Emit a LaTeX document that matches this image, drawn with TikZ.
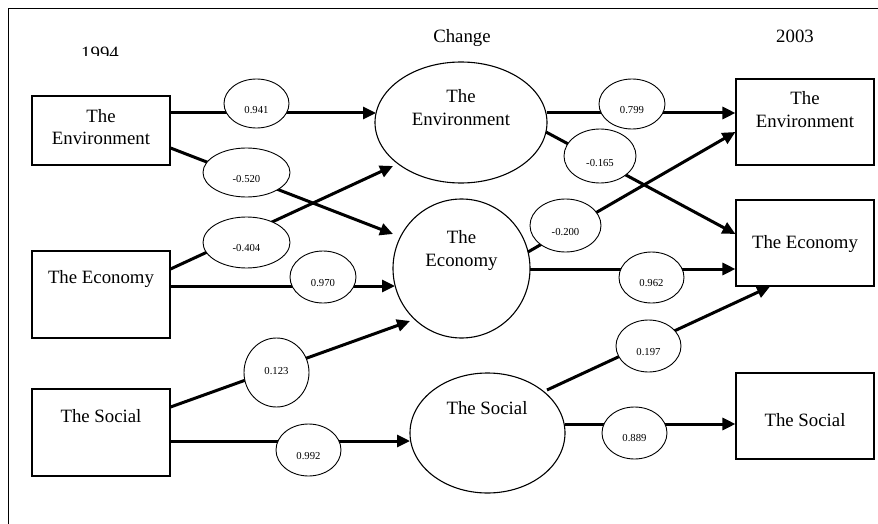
\documentclass[tikz,border=0pt]{standalone}
\usepackage{fontspec}
\setmainfont{Liberation Serif}
\usetikzlibrary{arrows.meta,shapes.geometric,calc}

\tikzset{
  bigfont/.style={font=\fontsize{18.8}{22.5}\selectfont},
  numfont/.style={font=\fontsize{10.7}{12}\selectfont},
  varbox/.style={draw, line width=1.1pt, rectangle, inner sep=0pt, minimum width=138pt},
  latent/.style={draw, line width=1.1pt, ellipse, inner sep=0pt},
  coef/.style={draw, line width=0.9pt, ellipse, fill=white, inner sep=0pt,
               numfont, text height=19.2pt, text depth=0pt,
               minimum width=65pt, minimum height=51pt},
  caption/.style={bigfont, inner sep=0pt, align=center},
  path/.style={line width=3pt, -{Triangle[length=13pt,width=12pt]}},
}

\begin{document}
\begin{tikzpicture}[x=1pt,y=-1pt]
\useasboundingbox (0,0) rectangle (878,524);

% frame
\draw[line width=1pt] (8,524) -- (8,9) -- (878,9);

% column headings
\begin{scope}
  \clip (60,30) rectangle (140,55.5);
  \node[caption, anchor=base] (hYear1) at (100,59.5) {1994};
\end{scope}
\node[caption, anchor=base] (hChange) at (462,42.5) {Change};
\node[caption, anchor=base] (hYear2) at (795,42.5) {2003};

% observed variables, 1994
\node[varbox, minimum height=69pt] (bxEnvL) at (101,130.5) {};
\node[varbox, minimum height=87pt] (bxEcoL) at (101,294.5) {};
\node[varbox, minimum height=87pt] (bxSocL) at (101,432.5) {};
\node[caption] (tEnvL) at (101,127) {The\\Environment};
\node[caption, anchor=base] (tEcoL) at (101,283) {The Economy};
\node[caption, anchor=base] (tSocL) at (101,422) {The Social};

% change factors
\node[latent, minimum width=172pt, minimum height=121pt] (elEnv) at (461,122.5) {};
\node[latent, minimum width=137pt, minimum height=139pt] (elEco) at (461.5,268.5) {};
\node[latent, minimum width=155pt, minimum height=120pt] (elSoc) at (487.5,433) {};
\node[caption] (tEnvM) at (461,107.8) {The\\Environment};
\node[caption] (tEcoM) at (461.5,250.6) {The\\Economy};
\node[caption, anchor=base] (tSocM) at (487,414) {The Social};

% observed variables, 2003
\node[varbox, minimum height=86pt] (bxEnvR) at (805,122) {};
\node[varbox, minimum height=86pt] (bxEcoR) at (805,243) {};
\node[varbox, minimum height=86pt] (bxSocR) at (805,416) {};
\node[caption] (tEnvR) at (805,109.6) {The\\Environment};
\node[caption, anchor=base] (tEcoR) at (805,248.3) {The Economy};
\node[caption, anchor=base] (tSocR) at (805,426) {The Social};

% paths 1994 -> change
\draw[path] ($(bxEnvL.east)+(0,-17.5)$) -- ($(elEnv.center)+(-85,-9.5)$);
\draw[path] ($(bxEnvL.east)+(0,17.5)$)  -- ($(elEco.center)+(-68.5,-34.5)$);
\draw[path] ($(bxEcoL.east)+(0,-25.5)$) -- ($(elEnv.center)+(-68,43.5)$);
\draw[path] ($(bxEcoL.east)+(0,-8.5)$)  -- ($(elEco.center)+(-66.5,17.5)$);
\draw[path] ($(bxSocL.east)+(0,-25.5)$) -- ($(elEco.center)+(-51.5,52.5)$);
\draw[path] ($(bxSocL.east)+(0,8.5)$)   -- ($(elSoc.center)+(-77.5,8)$);

% paths change -> 2003
\draw[path] ($(elEnv.center)+(86,-9.5)$)  -- ($(bxEnvR.west)+(0,-9)$);
\draw[path] ($(elEnv.center)+(85,9.5)$)   -- ($(bxEcoR.west)+(0,-9)$);
\draw[path] ($(elEco.center)+(66.5,-16.5)$) -- ($(bxEnvR.west)+(0,10)$);
\draw[path] ($(elEco.center)+(68.5,0.5)$) -- ($(bxEcoR.west)+(0,26)$);
\draw[path] ($(elSoc.center)+(59.5,-43)$) -- ($(bxEcoR.south)+(-35,0)$);
\draw[path] ($(elSoc.center)+(77.5,-9)$)  -- ($(bxSocR.west)+(0,8)$);

% path coefficients
\node[coef, minimum width=65pt, minimum height=49pt] (c941) at (256.5,103.5) {0.941};
\node[coef, minimum width=87pt, minimum height=49pt] (c520) at (246.5,172.5) {-0.520};
\node[coef, minimum width=87pt, minimum height=51pt, text height=18.2pt] (c404) at (246.5,242.5) {-0.404};
\node[coef, minimum width=66pt, minimum height=52pt] (c970) at (323,277) {0.970};
\node[coef, minimum width=65pt, minimum height=69pt, text height=4.2pt] (c123) at (276.5,372.5) {0.123};
\node[coef, minimum width=65pt, minimum height=52pt] (c992) at (308.5,450) {0.992};
\node[coef, minimum width=66pt, minimum height=50pt] (c799) at (632,104) {0.799};
\node[coef, minimum width=72pt, minimum height=54pt, text height=21.2pt] (c165) at (600,156) {-0.165};
\node[coef, minimum width=71pt, minimum height=53pt, text height=20.2pt] (c200) at (565.5,225.5) {-0.200};
\node[coef, minimum width=65pt, minimum height=51pt, text height=18.2pt] (c962) at (651.5,277.5) {0.962};
\node[coef, minimum width=65pt, minimum height=52pt] (c197) at (648.5,346) {0.197};
\node[coef, minimum width=65pt, minimum height=52pt, text height=17.2pt] (c889) at (634.5,433) {0.889};
\end{tikzpicture}
\end{document}
